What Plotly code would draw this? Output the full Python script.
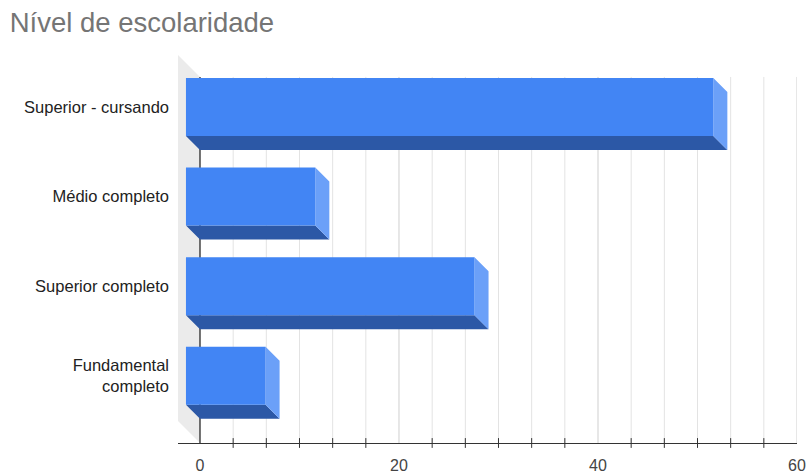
import plotly.graph_objects as go

# Education level survey counts
categories = ["Superior - cursando", "Médio completo", "Superior completo", "Fundamental<br>completo"]
counts = [53, 13, 29, 8]

# Axis ticks
label_ticks = [0, 20, 40, 60]
tick_labels = ["0", "20", "40", "60"]
grid_steps = 18          # minor grid every 60/18 units

# 3D look: extrusion depth in axis units
X_MAX = 60
DX = 1.41                # horizontal depth of each bar
DY = 0.156               # vertical depth of each bar
HALF = 0.324             # half height of a bar's front face
WALL_DX = 2.21           # depth of the side wall
WALL_DY = 0.245
Y_TOP, Y_BOT = -0.58, 3.75
BACK_TOP = Y_TOP + WALL_DY

FRONT = "#4285f4"
BOTTOM = "#2c58a6"
SIDE = "#6ba0f8"
WALL = "#ebebeb"

fig = go.Figure()

# left side wall of the box
fig.add_trace(go.Scatter(
    x=[-WALL_DX, 0, 0, -WALL_DX, -WALL_DX],
    y=[Y_TOP, BACK_TOP, Y_BOT, Y_BOT - WALL_DY, Y_TOP],
    fill="toself", fillcolor=WALL, mode="lines", line=dict(width=0),
    hoverinfo="skip", showlegend=False))

# vertical grid lines on the back plane
minor_x, minor_y, major_x, major_y = [], [], [], []
for k in range(1, grid_steps + 1):
    v = X_MAX * k / grid_steps
    if any(abs(v - t) < 1e-9 for t in label_ticks):
        major_x += [v, v, None]
        major_y += [BACK_TOP, Y_BOT, None]
    else:
        minor_x += [v, v, None]
        minor_y += [BACK_TOP, Y_BOT, None]
fig.add_trace(go.Scatter(x=minor_x, y=minor_y, mode="lines",
                         line=dict(color="#e3e3e3", width=1),
                         hoverinfo="skip", showlegend=False))
fig.add_trace(go.Scatter(x=major_x, y=major_y, mode="lines",
                         line=dict(color="#cfcfcf", width=1),
                         hoverinfo="skip", showlegend=False))

# baseline at zero
fig.add_trace(go.Scatter(x=[0, 0], y=[BACK_TOP, Y_BOT], mode="lines",
                         line=dict(color="#444444", width=1.5),
                         hoverinfo="skip", showlegend=False))

# bar faces
fx, fy, bx, by, sx, sy = [], [], [], [], [], []
for i, v in enumerate(counts):
    top, bot = i - HALF, i + HALF
    fx += [-DX, v - DX, v - DX, -DX, -DX, None]
    fy += [top, top, bot, bot, top, None]
    bx += [-DX, v - DX, v, 0, -DX, None]
    by += [bot, bot, bot + DY, bot + DY, bot, None]
    sx += [v - DX, v, v, v - DX, v - DX, None]
    sy += [top, top + DY, bot + DY, bot, top, None]

for xs, ys, col in [(bx, by, BOTTOM), (sx, sy, SIDE), (fx, fy, FRONT)]:
    fig.add_trace(go.Scatter(x=xs, y=ys, fill="toself", fillcolor=col,
                             mode="lines", line=dict(width=0),
                             hoverinfo="skip", showlegend=False))

# tick marks crossing the horizontal axis
tick_x = [X_MAX * k / grid_steps for k in range(1, grid_steps)
          if not any(abs(X_MAX * k / grid_steps - t) < 1e-9 for t in label_ticks)]
fig.add_trace(go.Scatter(x=tick_x, y=[Y_BOT] * len(tick_x), mode="markers",
                         marker=dict(symbol="line-ns", size=7,
                                     line=dict(color="#333333", width=1)),
                         cliponaxis=False, hoverinfo="skip", showlegend=False))

font_family = "Liberation Sans, Arial, sans-serif"

fig.update_layout(
    width=808, height=475,
    margin=dict(l=178, r=11, t=55, b=32),
    paper_bgcolor="white", plot_bgcolor="white",
    title=dict(text="Nível de escolaridade", x=0.012, xref="container",
               xanchor="left", y=0.952, yref="container", yanchor="middle",
               font=dict(family=font_family, size=27.5, color="#757575")),
    xaxis=dict(range=[-WALL_DX, X_MAX], tickvals=label_ticks, ticktext=tick_labels,
               ticks="", showgrid=False, zeroline=False, automargin=False,
               showline=True, linecolor="#333333", linewidth=1,
               ticklabelstandoff=8,
               tickfont=dict(family=font_family, size=16, color="#444444")),
    yaxis=dict(range=[Y_BOT, Y_TOP], tickvals=list(range(len(categories))),
               ticktext=categories, ticks="", showgrid=False, zeroline=False,
               showline=False, ticklabelstandoff=8, automargin=False,
               tickfont=dict(family=font_family, size=16.5, color="#222222")),
)

fig.write_html("out.html")
